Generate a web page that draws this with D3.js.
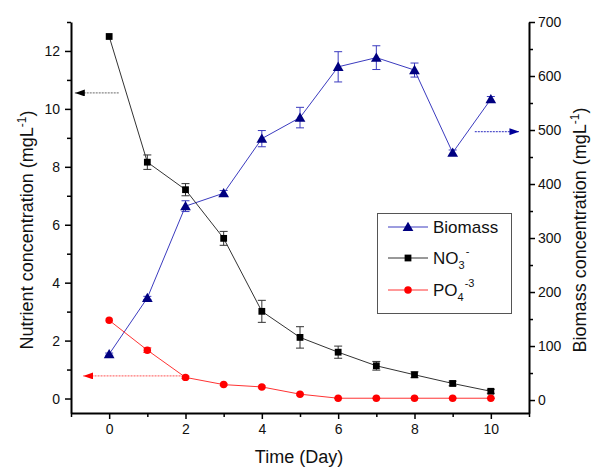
<!DOCTYPE html>
<html>
<head>
<meta charset="utf-8">
<script src="https://cdn.jsdelivr.net/npm/d3@7"></script>
<style>
  html, body { margin: 0; padding: 0; background: #ffffff; }
  svg { display: block; font-family: Arial, "Liberation Sans", sans-serif; }
</style>
</head>
<body>
<svg id="chart" width="594" height="470"></svg>
<script>
// Time axis (days)
const days = [0, 1, 2, 3, 4, 5, 6, 7, 8, 9, 10];

// Nitrate (mg/L) with standard deviation
const no3 = [12.5, 8.16, 7.21, 5.53, 3.01, 2.11, 1.60, 1.13, 0.82, 0.52, 0.25];
const no3Err = [0.0, 0.25, 0.21, 0.24, 0.38, 0.37, 0.21, 0.15, 0.10, 0.08, 0.07];

// Phosphate (mg/L) with standard deviation
const po4 = [2.70, 1.67, 0.73, 0.48, 0.40, 0.15, 0.01, 0.01, 0.01, 0.01, 0.01];
const po4Err = [0.0, 0.08, 0.04, 0.03, 0.03, 0.03, 0.01, 0.01, 0.01, 0.01, 0.01];

// Biomass (mg/L) with standard deviation
const biomass = [85, 189, 359, 383, 484, 523, 617, 634, 611, 458, 557];
const biomassErr = [2, 3, 10, 5, 15, 19, 28, 22, 13, 5, 5];

// Tick values
const xMajor = [0, 2, 4, 6, 8, 10];
const xMinor = [-1, 1, 3, 5, 7, 9, 11];
const yLeftMajor = [0, 2, 4, 6, 8, 10, 12];
const yLeftMinor = [1, 3, 5, 7, 9, 11, 13];
const yRightMajor = [0, 100, 200, 300, 400, 500, 600, 700];
const yRightMinor = [50, 150, 250, 350, 450, 550, 650];

// Arrows that tie each curve to its axis: [x from, x to, value]
const leftArrowNo3 = [0.25, -0.90, 10.55];
const leftArrowPo4 = [1.87, -0.68, 0.78];
const rightArrowBio = [9.58, 10.75, 497];

const svg = d3.select("#chart");
const L = 71, R = 529, T = 22, B = 413;

const x = d3.scaleLinear().domain([-1, 11]).range([L, R]);
const yL = d3.scaleLinear().domain([-0.5, 13]).range([B, T]);
const yR = d3.scaleLinear().domain([-24, 700]).range([B, T]);

const defs = svg.append("defs");
function arrowMarker(id, color) {
  defs.append("marker")
    .attr("id", id)
    .attr("viewBox", "0 0 10 10")
    .attr("refX", 10).attr("refY", 5)
    .attr("markerWidth", 10).attr("markerHeight", 7)
    .attr("markerUnits", "userSpaceOnUse")
    .attr("orient", "auto")
    .attr("preserveAspectRatio", "none")
    .append("path").attr("d", "M0,0 L10,5 L0,10 Z").attr("fill", color);
}
arrowMarker("arrBlack", "#000000");
arrowMarker("arrRed", "#ff0000");
arrowMarker("arrBlue", "#000099");

// Axes
function drawAxis(gen, transform, minor, minorGen) {
  const g = svg.append("g").attr("transform", transform);
  g.call(minorGen.tickValues(minor).tickSize(4).tickFormat(""));
  g.selectAll(".domain").remove();
  const g2 = svg.append("g").attr("transform", transform);
  g2.call(gen);
  [g, g2].forEach(s => {
    s.selectAll("line").attr("stroke", "#000").attr("stroke-width", 1.5);
    s.selectAll("path.domain").attr("stroke", "#000").attr("stroke-width", 2);
    s.selectAll("text").attr("font-size", 14).attr("fill", "#111")
      .attr("font-family", "Arial, 'Liberation Sans', sans-serif");
  });
  return g2;
}

drawAxis(
  d3.axisBottom(x).tickValues(xMajor).tickSize(6).tickSizeOuter(0).tickPadding(5),
  `translate(0,${B})`, xMinor, d3.axisBottom(x));
drawAxis(
  d3.axisLeft(yL).tickValues(yLeftMajor).tickSize(6).tickSizeOuter(0).tickPadding(5),
  `translate(${L},0)`, yLeftMinor, d3.axisLeft(yL));
drawAxis(
  d3.axisRight(yR).tickValues(yRightMajor).tickSize(6).tickSizeOuter(0).tickPadding(3),
  `translate(${R},0)`, yRightMinor, d3.axisRight(yR));

// Axis titles
svg.append("text")
  .attr("x", (L + R) / 2 - 1).attr("y", 463)
  .attr("text-anchor", "middle").attr("font-size", 18).attr("fill", "#111")
  .text("Time (Day)");

function unitTitle(xpos, ypos, label) {
  const t = svg.append("text")
    .attr("transform", `translate(${xpos},${ypos}) rotate(-90)`)
    .attr("text-anchor", "middle").attr("font-size", 18).attr("fill", "#111");
  t.append("tspan").text(label + " (mgL");
  t.append("tspan").attr("font-size", 12).attr("dy", -7).text("-1");
  t.append("tspan").attr("dy", 7).text(")");
}
unitTitle(33, 230, "Nutrient concentration");
unitTitle(586, 230, "Biomass concentration");

// Series styling
const series = [
  { name: "biomass", vals: biomass, err: biomassErr, y: yR, line: "#3b3bbf", mark: "#000080", err_c: "#3b3bbf", shape: d3.symbolTriangle, size: 50 },
  { name: "no3", vals: no3, err: no3Err, y: yL, line: "#333333", mark: "#000000", err_c: "#333333", shape: d3.symbolSquare, size: 46 },
  { name: "po4", vals: po4, err: po4Err, y: yL, line: "#ff3333", mark: "#ff0000", err_c: "#ff3333", shape: d3.symbolCircle, size: 44 }
];

series.forEach(s => {
  const g = svg.append("g");
  const pts = days.map((d, i) => ({ d, v: s.vals[i], e: s.err[i] }));
  g.append("path")
    .datum(pts)
    .attr("fill", "none").attr("stroke", s.line).attr("stroke-width", 1)
    .attr("d", d3.line().x(p => x(p.d)).y(p => s.y(p.v)));
  // error bars
  const eb = g.selectAll(".eb").data(pts.filter(p => p.e > 0)).enter().append("g")
    .attr("stroke", s.err_c).attr("stroke-width", 1);
  eb.append("line").attr("x1", p => x(p.d)).attr("x2", p => x(p.d))
    .attr("y1", p => s.y(p.v + p.e)).attr("y2", p => s.y(p.v - p.e));
  eb.append("line").attr("x1", p => x(p.d) - 4).attr("x2", p => x(p.d) + 4)
    .attr("y1", p => s.y(p.v + p.e)).attr("y2", p => s.y(p.v + p.e));
  eb.append("line").attr("x1", p => x(p.d) - 4).attr("x2", p => x(p.d) + 4)
    .attr("y1", p => s.y(p.v - p.e)).attr("y2", p => s.y(p.v - p.e));
  g.selectAll(".m").data(pts).enter().append("path")
    .attr("transform", p => `translate(${x(p.d)},${s.y(p.v) + (s.shape === d3.symbolTriangle ? 1 : 0)})`)
    .attr("d", d3.symbol().type(s.shape).size(s.size))
    .attr("fill", s.mark);
});

// Axis-pointer arrows
function pointer(a, scale, color, marker) {
  svg.append("line")
    .attr("x1", x(a[0])).attr("x2", x(a[1]))
    .attr("y1", scale(a[2])).attr("y2", scale(a[2]))
    .attr("stroke", color).attr("stroke-width", 1.2)
    .attr("stroke-dasharray", "2,1")
    .attr("marker-end", `url(#${marker})`);
}
pointer(leftArrowNo3, yL, "#888888", "arrBlack");
pointer(leftArrowPo4, yL, "#ff7777", "arrRed");
pointer(rightArrowBio, yR, "#5555cc", "arrBlue");

// Legend
const lg = svg.append("g");
lg.append("rect").attr("x", 377.5).attr("y", 213.5).attr("width", 134).attr("height", 100)
  .attr("fill", "#ffffff").attr("stroke", "#555555").attr("stroke-width", 1);
// label parts: [text, baseline offset, font size]
const rows = [
  { s: series[0], y: 227, label: [["Biomass", 0, 17]] },
  { s: series[1], y: 258, label: [["NO", 0, 17], ["3", 5, 11], ["-", -9, 11]] },
  { s: series[2], y: 290, label: [["PO", 0, 17], ["4", 5, 11], ["-3", -9, 11]] }
];
rows.forEach(r => {
  lg.append("line").attr("x1", 388).attr("x2", 428).attr("y1", r.y).attr("y2", r.y)
    .attr("stroke", r.s.line).attr("stroke-width", 1);
  lg.append("path")
    .attr("transform", `translate(408,${r.y + (r.s.shape === d3.symbolTriangle ? 1 : 0)})`)
    .attr("d", d3.symbol().type(r.s.shape).size(r.s.size)).attr("fill", r.s.mark);
  const t = lg.append("text").attr("x", 433).attr("y", r.y + 6)
    .attr("font-size", 17).attr("fill", "#111");
  let prev = 0;
  r.label.forEach(part => {
    t.append("tspan").text(part[0])
      .attr("font-size", part[2])
      .attr("dy", part[1] - prev)
      .attr("dx", part[1] < 0 ? 1 : 0);
    prev = part[1];
  });
});
</script>
</body>
</html>
